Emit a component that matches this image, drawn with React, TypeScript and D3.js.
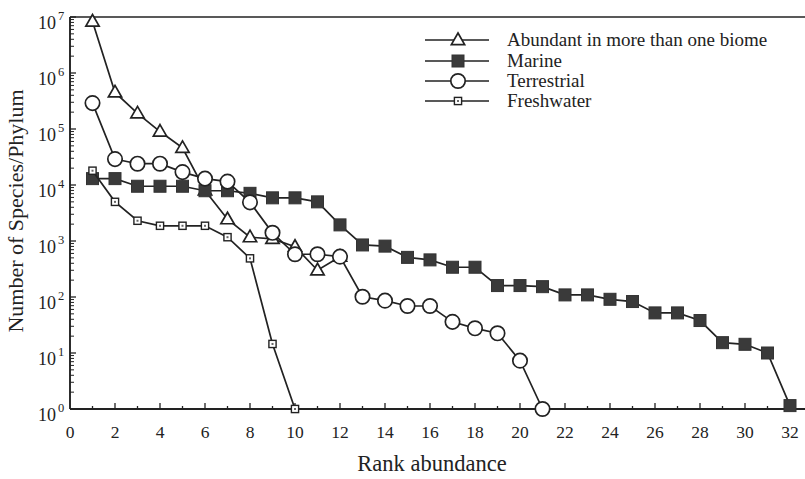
import React from "react";
import * as d3 from "d3";

const ranks32 = d3.range(1, 33);
const abundant = [8.3e6, 4.5e5, 1.9e5, 9e4, 4.6e4, 8000, 2450, 1170, 1090, 790, 300, 525];
const marine = [13000, 13000, 9500, 9500, 9500, 7900, 7900, 7100, 5900, 5900, 5000, 1940, 850, 810, 510, 460, 340, 340, 160, 160, 153, 109, 109, 91, 83, 52, 52, 38, 15.3, 14.3, 10, 1.15];
const terrestrial = [2.9e5, 2.9e4, 2.4e4, 2.4e4, 1.7e4, 1.3e4, 1.15e4, 4900, 1400, 580, 580, 525, 101, 86, 69, 69, 36, 27.6, 22.5, 7.3, 1];
const freshwater = [1.8e4, 5000, 2300, 1870, 1870, 1870, 1170, 490, 14.5, 1];
const legendLabels = ["Abundant in more than one biome", "Marine", "Terrestrial", "Freshwater"];
const xTickValues = d3.range(0, 33, 2);
const yExponents = [0, 1, 2, 3, 4, 5, 6, 7];

const INK = "#222";
const FONT = "'Liberation Serif', 'Times New Roman', serif";

type Kind = "tri" | "sq" | "circ" | "small";

function Marker({ kind, x, y }: { kind: Kind; x: number; y: number }) {
  if (kind === "tri") {
    const s = 7;
    return (
      <path
        d={`M${x},${y - s} L${x + s * 0.95},${y + s * 0.65} L${x - s * 0.95},${y + s * 0.65} Z`}
        fill="#fff"
        stroke={INK}
        strokeWidth={1.7}
      />
    );
  }
  if (kind === "sq") {
    const s = 6;
    return <rect x={x - s} y={y - s} width={2 * s} height={2 * s} fill="#3a3a3a" stroke="#333" strokeWidth={1} />;
  }
  if (kind === "circ") {
    return <circle cx={x} cy={y} r={7.2} fill="#fff" stroke={INK} strokeWidth={1.7} />;
  }
  const s = 3.6;
  return (
    <g>
      <rect x={x - s} y={y - s} width={2 * s} height={2 * s} fill="#fff" stroke={INK} strokeWidth={1.4} />
      <rect x={x - 1} y={y - 1} width={2} height={2} fill="#666" />
    </g>
  );
}

export default function App() {
  const x = d3.scaleLinear().domain([0, 32]).range([70, 790]);
  const y = d3.scaleLog().domain([1, 1e7]).range([409, 17]);
  const line = d3
    .line<[number, number]>()
    .x((d) => x(d[0]))
    .y((d) => y(d[1]));

  const series: { kind: Kind; values: number[] }[] = [
    { kind: "tri", values: abundant },
    { kind: "sq", values: marine },
    { kind: "circ", values: terrestrial },
    { kind: "small", values: freshwater },
  ];

  const minorTicks: number[] = [];
  for (let e = 0; e < 7; e++) {
    for (let m = 2; m <= 9; m++) minorTicks.push(m * Math.pow(10, e));
  }

  const legendX0 = 425;
  const legendX1 = 489;
  const legendMid = 458;
  const legendYs = [40, 61, 81, 101];
  const legendKinds: Kind[] = ["tri", "sq", "circ", "small"];

  return (
    <svg width={805} height={479} style={{ position: "absolute", left: 0, top: 0, background: "#fff" }}>
      <rect x={0} y={0} width={805} height={479} fill="#fff" />
      {/* frame */}
      <line x1={x(0)} x2={805} y1={y(1e7)} y2={y(1e7)} stroke={INK} strokeWidth={1.7} />
      <line x1={x(0)} x2={805} y1={y(1)} y2={y(1)} stroke={INK} strokeWidth={1.9} />
      <line x1={x(0)} x2={x(0)} y1={y(1e7)} y2={y(1)} stroke={INK} strokeWidth={1.9} />

      {/* y ticks */}
      {yExponents.map((e) => (
        <line key={"ym" + e} x1={x(0)} x2={x(0) + 6} y1={y(Math.pow(10, e))} y2={y(Math.pow(10, e))} stroke={INK} strokeWidth={1.3} />
      ))}
      {minorTicks.map((v, i) => (
        <line key={"yn" + i} x1={x(0)} x2={x(0) + 4} y1={y(v)} y2={y(v)} stroke={INK} strokeWidth={1} />
      ))}
      {yExponents.map((e) => (
        <g key={"yl" + e} fontFamily={FONT} fill="#222">
          <text x={56} y={y(Math.pow(10, e)) + 12} fontSize={18} textAnchor="end">10</text>
          <text x={58} y={y(Math.pow(10, e)) + 3} fontSize={12.5}>{e}</text>
        </g>
      ))}

      {/* x ticks */}
      {d3.range(1, 35).map((v) => (
        <line key={"xt" + v} x1={x(v)} x2={x(v)} y1={y(1)} y2={y(1) - (v % 2 === 0 ? 6 : 3)} stroke={INK} strokeWidth={1.3} />
      ))}
      {xTickValues.map((v) => (
        <text key={"xl" + v} x={x(v)} y={438} fontSize={17.5} fontFamily={FONT} textAnchor="middle" fill="#222">
          {v}
        </text>
      ))}

      {/* axis titles */}
      <text x={432} y={471} fontSize={22.5} fontFamily={FONT} textAnchor="middle" fill="#222">
        Rank abundance
      </text>
      <text
        transform={`translate(23,211) rotate(-90)`}
        fontSize={22}
        fontFamily={FONT}
        textAnchor="middle"
        fill="#222"
      >
        Number of Species/Phylum
      </text>

      {/* series */}
      {series.map((s, si) => {
        const pts: [number, number][] = s.values.map((v, i) => [ranks32[i], v]);
        return (
          <g key={"s" + si}>
            <path d={line(pts) || ""} fill="none" stroke={INK} strokeWidth={1.7} />
            {pts.map((p, i) => (
              <Marker key={i} kind={s.kind} x={x(p[0])} y={y(p[1])} />
            ))}
          </g>
        );
      })}

      {/* legend */}
      {legendLabels.map((lab, i) => (
        <g key={"lg" + i}>
          <line x1={legendX0} x2={legendX1} y1={legendYs[i]} y2={legendYs[i]} stroke={INK} strokeWidth={1.6} />
          <Marker kind={legendKinds[i]} x={legendMid} y={legendYs[i]} />
          <text x={507} y={legendYs[i] + 6} fontSize={19} fontFamily={FONT} fill="#222">
            {lab}
          </text>
        </g>
      ))}
    </svg>
  );
}
